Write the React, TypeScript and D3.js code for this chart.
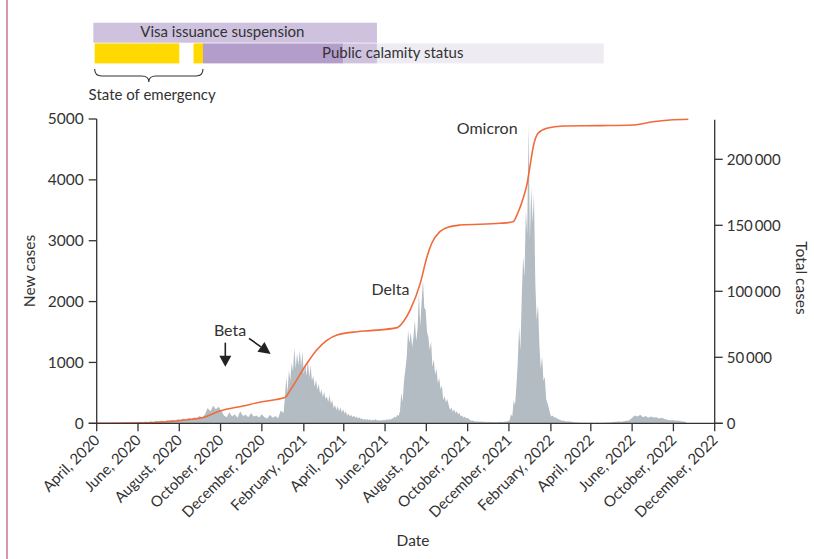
import React from "react";
import * as d3 from "d3";

// ---------- data ----------
const tickDates = [
  "2020-04-01", "2020-06-01", "2020-08-01", "2020-10-01", "2020-12-01",
  "2021-02-01", "2021-04-01", "2021-06-01", "2021-08-01", "2021-10-01",
  "2021-12-01", "2022-02-01", "2022-04-01", "2022-06-01", "2022-08-01", "2022-10-01",
];
const tickLabels = [
  "April, 2020", "June, 2020", "August, 2020", "October, 2020", "December, 2020",
  "February, 2021", "April, 2021", "June,2021", "August, 2021", "October, 2021",
  "December, 2021", "February, 2022", "April, 2022", "June, 2022", "October, 2022", "December, 2022",
];

// daily new cases, sampled per segment: [start date, step in days]
const earlyStart = "2020-04-01";
const earlyStep = 4;
const earlyCases = [
  0, 0, 0, 2, 5, 3, 8, 5, 10, 6, 12, 8, 15, 10, 20, 12,
  25, 15, 30, 20, 35, 25, 40, 30, 45, 35, 50,
  45, 60, 40, 70, 55, 80, 60, 90, 70, 100, 85, 120, 95,
  150, 250, 200, 290, 230, 270, 210,
  130, 100, 180, 110, 150, 90, 200, 120, 140, 100, 170, 110, 130, 95, 150,
  100, 80, 140, 90, 120, 85, 210,
];

const wave1Start = "2021-01-02";
const wave1Step = 2;
const wave1Cases = [
  170, 410, 760, 500, 880, 700, 1000, 850, 1240, 900,
  1150, 950, 1200, 930, 1180, 800, 1000, 780, 1040, 750,
  950, 700, 780, 600, 720, 550, 650, 480, 560, 430,
  520, 400, 440, 350, 460, 320, 380, 250, 300, 220,
  280, 200, 260, 180, 230, 160, 200, 130, 160, 110,
  140, 100, 130, 90, 110, 80, 100, 70, 80, 60,
  75, 55, 70, 50, 65, 45, 60, 50, 70, 45,
  55, 40, 55, 45, 60, 50, 65, 55, 70, 60, 80,
];

const deltaStart = "2021-06-13";
const deltaStep = 2;
const deltaCases = [
  85, 110, 90, 140, 120, 200, 500, 350, 700, 880,
  1095, 1530, 1320, 1500, 1250, 1420, 1700, 1350, 1550, 2135,
  1600, 2000, 2355, 1900, 1860, 1500, 1420, 1200, 1350, 930,
  1050, 800, 900, 660, 750, 560, 620, 380, 450, 340,
  400, 300, 220, 260, 190, 230, 170, 200, 150, 170,
  110, 130, 90, 110, 80, 90, 70, 50, 40, 45,
  35, 30, 35, 25, 30, 25, 30, 20, 25, 18,
  22, 20, 25, 18, 20, 15, 22, 18, 20, 25,
  20, 22, 25, 30, 28, 35, 50,
];

const omicronStart = "2021-12-04";
const omicronStep = 2;
const omicronCases = [
  150, 110, 380, 300, 600, 1000, 1590, 1200, 2100, 2740,
  2410, 3500, 3100, 4930, 3000, 3890, 3290, 3780, 2300, 1700,
  1950, 1300, 900, 1100, 700, 760, 400, 330, 250, 150,
  110, 130, 90, 100, 80, 70, 60, 50, 40, 45,
  35, 30, 35, 28, 30,
];

const lateStart = "2022-03-05";
const lateStep = 4;
const lateCases = [
  20, 15, 12, 10, 8, 10, 6, 8, 5, 8, 6, 10, 8, 12, 15,
  20, 25, 30, 25, 35, 40, 50, 90, 130, 110, 140, 100, 120, 90, 110,
  95, 100, 80, 90, 70, 60, 50, 55, 40, 45, 35, 30, 20,
];

const totalDates = [
  "2020-04-01", "2020-06-01", "2020-07-14", "2020-08-09", "2020-09-08", "2020-09-30",
  "2020-11-03", "2020-12-01", "2021-01-04", "2021-01-12", "2021-02-06", "2021-02-20",
  "2021-03-22", "2021-04-21", "2021-05-10", "2021-06-19", "2021-06-28", "2021-07-08",
  "2021-07-23", "2021-08-02", "2021-08-09", "2021-08-21", "2021-09-05", "2021-09-20",
  "2021-11-18", "2021-12-07", "2021-12-14", "2021-12-22", "2021-12-28", "2022-01-01",
  "2022-01-06", "2022-01-13", "2022-01-26", "2022-02-19", "2022-04-15", "2022-06-02",
  "2022-07-02", "2022-07-27", "2022-08-23",
];
const totalCases = [
  0, 200, 1200, 2500, 4800, 9300,
  13100, 16300, 19500, 25200, 45700, 55500,
  66900, 69400, 70200, 72500, 77000, 85800,
  106000, 126200, 136400, 145200, 149000, 150200,
  151500, 152700, 159100, 170500, 181800, 194400,
  209600, 219700, 223500, 225200, 225500, 226000,
  228500, 229800, 230300,
];

const leftTicks = [0, 1000, 2000, 3000, 4000, 5000];
const rightTicks = [0, 50000, 100000, 150000, 200000];
const rightTickLabels = ["0", "50\u2009000", "100\u2009000", "150\u2009000", "200\u2009000"];

// policy periods
const visaPeriod = ["2020-03-27", "2021-05-20"];
const emergencyPeriods = [
  ["2020-03-29", "2020-08-01"],
  ["2020-08-22", "2020-09-05"],
];
const calamityPhases = ["2020-09-05", "2021-03-31", "2021-05-20", "2022-04-20"];

// annotations: [label, date, value]
const variantLabels = [
  ["Beta", "2020-10-15", 1435],
  ["Delta", "2021-05-12", 2108],
  ["Omicron", "2021-09-15", 4754],
];

// ---------- layout ----------
const W = 814;
const H = 559;
const FONT = "Lato, 'Open Sans', sans-serif";
const TXT = "#333";
const FS = 15;

const parse = d3.utcParse("%Y-%m-%d");

type Pt = { d: Date; v: number };

function segment(startStr: string, step: number, vals: number[]): Pt[] {
  const s = parse(startStr)!;
  return vals.map((v, i) => ({ d: d3.utcDay.offset(s, i * step), v }));
}

export default function App() {
  const x = d3
    .scaleUtc()
    .domain([parse("2020-04-01")!, parse("2022-10-01")!])
    .range([96.7, 714.7]);
  const yL = d3.scaleLinear().domain([0, 5000]).range([423.3, 119]);
  const yR = d3.scaleLinear().domain([0, 230000]).range([423.3, 119.7]);

  const nc: Pt[] = [
    ...segment(earlyStart, earlyStep, earlyCases),
    ...segment(wave1Start, wave1Step, wave1Cases),
    ...segment(deltaStart, deltaStep, deltaCases),
    ...segment(omicronStart, omicronStep, omicronCases),
    ...segment(lateStart, lateStep, lateCases),
  ];
  const area = d3
    .area<Pt>()
    .x((p) => x(p.d))
    .y0(yL(0))
    .y1((p) => yL(p.v));

  const tc: Pt[] = totalDates.map((d, i) => ({ d: parse(d)!, v: totalCases[i] }));
  const line = d3
    .line<Pt>()
    .x((p) => x(p.d))
    .y((p) => yR(p.v))
    .curve(d3.curveMonotoneX);

  const xd = (s: string) => x(parse(s)!);

  const row1Y = 22.7;
  const row2Y = 43.4;
  const rowH = 20;
  const calColors = ["#b39dca", "#cfc2df", "#eeebf3"];

  // brace
  const bx0 = xd(emergencyPeriods[0][0]);
  const bx1 = xd(emergencyPeriods[1][1]);
  const bxm = (bx0 + bx1) / 2;
  const by0 = 69;
  const bym = 76;
  const byt = 82;
  const brace = `M${bx0},${by0} Q${bx0},${bym} ${bx0 + 7},${bym} L${bxm - 7},${bym} Q${bxm},${bym} ${bxm},${byt} Q${bxm},${bym} ${bxm + 7},${bym} L${bx1 - 7},${bym} Q${bx1},${bym} ${bx1},${by0}`;

  // Beta arrows (data coords)
  const downX = xd("2020-10-08");
  const downTop = yL(1325);
  const downTip = yL(930);
  const diagFrom = [xd("2020-11-12"), yL(1397)];
  const diagTo = [xd("2020-12-14"), yL(1139)];
  const ang = Math.atan2(diagTo[1] - diagFrom[1], diagTo[0] - diagFrom[0]);
  const headL = 12;
  const headW = 6;
  const hb = [diagTo[0] - headL * Math.cos(ang), diagTo[1] - headL * Math.sin(ang)];
  const perp = [-Math.sin(ang), Math.cos(ang)];

  return (
    <svg
      width={W}
      height={H}
      style={{ position: "absolute", left: 0, top: 0, background: "#fff" }}
      fontFamily={FONT}
    >
      <line x1={7} x2={7} y1={0} y2={H} stroke="#c94d6b" strokeWidth={1.2} />

      {/* policy bars */}
      <rect
        x={xd(visaPeriod[0])}
        y={row1Y}
        width={xd(visaPeriod[1]) - xd(visaPeriod[0])}
        height={rowH}
        fill="#cfc2df"
      />
      <text x={140.3} y={37} fontSize={FS} fill={TXT}>
        Visa issuance suspension
      </text>
      {emergencyPeriods.map((p, i) => (
        <rect
          key={"e" + i}
          x={xd(p[0])}
          y={row2Y}
          width={xd(p[1]) - xd(p[0])}
          height={rowH}
          fill="#ffd900"
        />
      ))}
      {calamityPhases.slice(0, -1).map((s, i) => (
        <rect
          key={"c" + i}
          x={xd(s)}
          y={row2Y}
          width={xd(calamityPhases[i + 1]) - xd(s)}
          height={rowH}
          fill={calColors[i]}
        />
      ))}
      <text x={322} y={57.5} fontSize={FS} fill={TXT}>
        Public calamity status
      </text>
      <path d={brace} fill="none" stroke={TXT} strokeWidth={1.1} />
      <text x={88.6} y={99.5} fontSize={FS} fill={TXT}>
        State of emergency
      </text>

      {/* new cases */}
      <path d={area(nc) || ""} fill="#b4bcc3" />
      {/* total cases */}
      <path d={line(tc) || ""} fill="none" stroke="#f26a3b" strokeWidth={1.6} />

      {/* axes */}
      <line x1={x.range()[0]} x2={x.range()[0]} y1={yL(0)} y2={yL(5000)} stroke={TXT} strokeWidth={1.3} />
      <line x1={x.range()[1]} x2={x.range()[1]} y1={yR(0)} y2={yR(230000)} stroke={TXT} strokeWidth={1.3} />
      <line x1={x.range()[0] - 8} x2={x.range()[1] + 8} y1={yL(0)} y2={yL(0)} stroke={TXT} strokeWidth={1.3} />
      {leftTicks.map((t) => (
        <g key={"l" + t} transform={`translate(0,${yL(t)})`}>
          <line x1={x.range()[0] - 8} x2={x.range()[0]} stroke={TXT} strokeWidth={1.3} />
          <text x={x.range()[0] - 13} dy="0.35em" textAnchor="end" fontSize={FS + 0.5} fill={TXT}>
            {t}
          </text>
        </g>
      ))}
      {rightTicks.map((t, i) => (
        <g key={"r" + t} transform={`translate(0,${yR(t)})`}>
          <line x1={x.range()[1]} x2={x.range()[1] + 8} stroke={TXT} strokeWidth={1.3} />
          <text x={x.range()[1] + 12} dy="0.35em" textAnchor="start" fontSize={FS} fill={TXT}>
            {rightTickLabels[i]}
          </text>
        </g>
      ))}
      {tickDates.map((d, i) => {
        const px = xd(d);
        return (
          <g key={"x" + d}>
            <line x1={px} x2={px} y1={yL(0)} y2={yL(0) + 8} stroke={TXT} strokeWidth={1.3} />
            <text
              transform={`translate(${px + 4},${441}) rotate(-45)`}
              textAnchor="end"
              fontSize={FS}
              fill={TXT}
            >
              {tickLabels[i]}
            </text>
          </g>
        );
      })}

      {/* axis titles */}
      <text transform="translate(35,271) rotate(-90)" textAnchor="middle" fontSize={FS + 0.5} fill={TXT}>
        New cases
      </text>
      <text transform="translate(796,278) rotate(90)" textAnchor="middle" fontSize={FS + 0.5} fill={TXT}>
        Total cases
      </text>
      <text x={413} y={546} textAnchor="middle" fontSize={FS + 0.5} fill={TXT}>
        Date
      </text>

      {/* variant labels */}
      {variantLabels.map(([lab, d, v]) => (
        <text
          key={lab as string}
          x={xd(d as string)}
          y={yL(v as number)}
          textAnchor={lab === "Beta" ? "middle" : "start"}
          fontSize={16}
          fill={TXT}
        >
          {lab}
        </text>
      ))}

      {/* Beta arrows */}
      <line x1={downX} x2={downX} y1={downTop} y2={downTip - 10} stroke="#222" strokeWidth={1.6} />
      <path
        d={`M${downX - 6},${downTip - 11} L${downX + 6},${downTip - 11} L${downX},${downTip} Z`}
        fill="#222"
      />
      <line x1={diagFrom[0]} y1={diagFrom[1]} x2={hb[0]} y2={hb[1]} stroke="#222" strokeWidth={1.6} />
      <path
        d={`M${hb[0] + perp[0] * headW},${hb[1] + perp[1] * headW} L${hb[0] - perp[0] * headW},${hb[1] - perp[1] * headW} L${diagTo[0]},${diagTo[1]} Z`}
        fill="#222"
      />
    </svg>
  );
}
